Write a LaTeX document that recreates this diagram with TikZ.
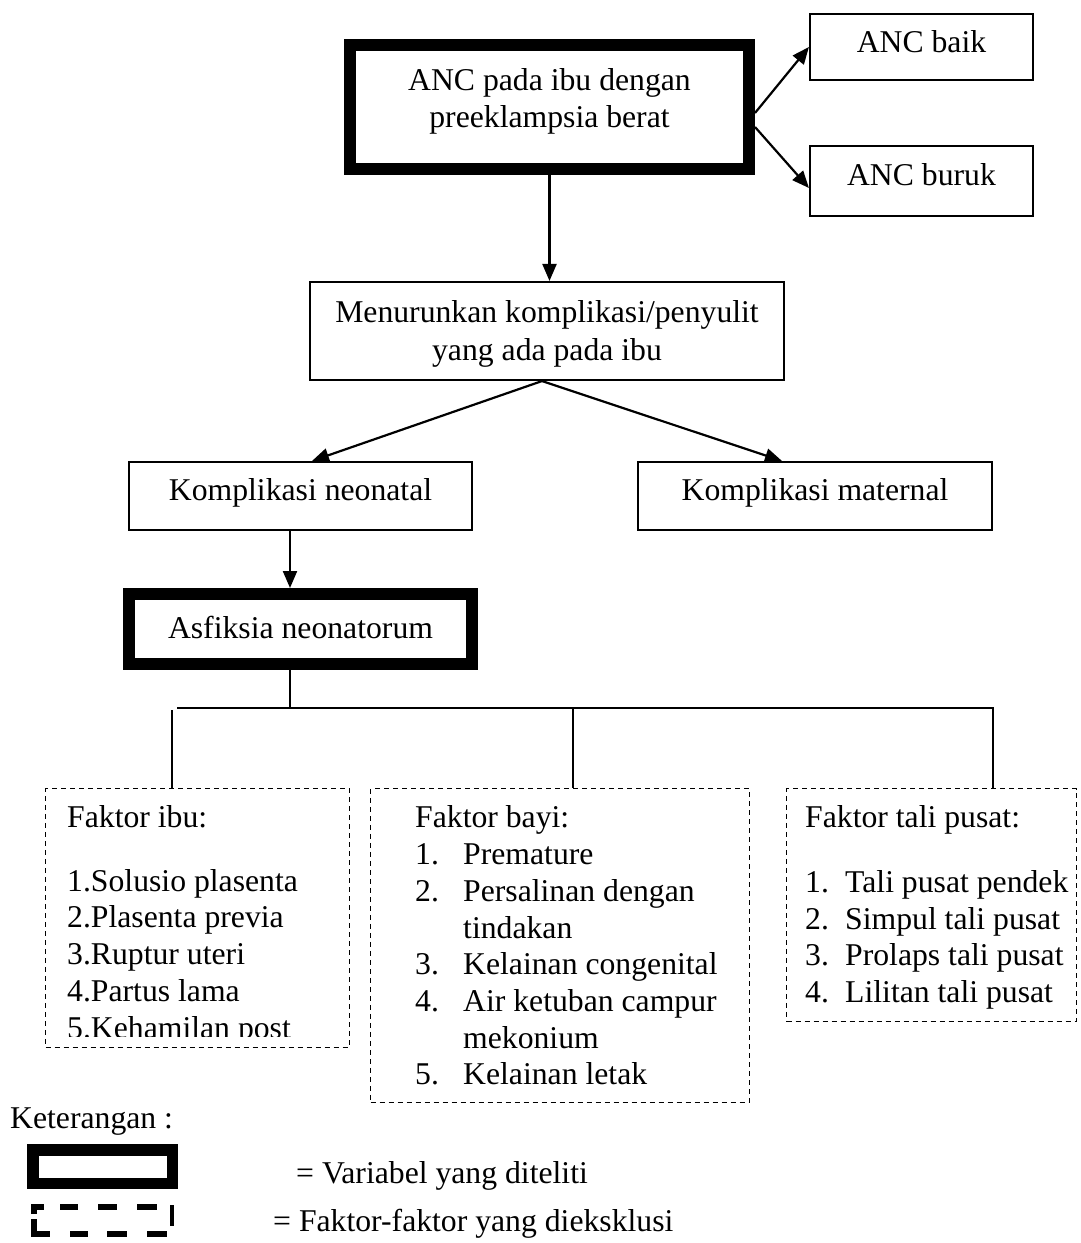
\documentclass[tikz,border=0pt]{standalone}
\usepackage{fontspec}
\setmainfont{Liberation Serif}
\usetikzlibrary{arrows.meta,calc}

\begin{document}
\begin{tikzpicture}[x=1pt,y=-1pt,
  every node/.style={inner sep=0pt},
  txt/.style={font=\fontsize{31.7}{36.7}\selectfont, anchor=base},
  ltxt/.style={txt, anchor=base west},
  plainbox/.style={draw, line width=1.7pt},
  boldbox/.style={draw, line width=12pt},
  exclbox/.style={draw, line width=1.5pt, dash pattern=on 5pt off 4pt},
  arr/.style={-{Triangle[length=17pt,width=14pt]}, line width=2.2pt},
  link/.style={line width=1.9pt, line join=miter},
  legdash/.style={line width=6.5pt, line cap=butt, line join=miter}
]
\useasboundingbox (0,0) rectangle (1080,1243);

% ---- boxes ----
\node[boldbox, minimum width=399pt, minimum height=124pt] (top) at (549.5,107) {};
\node[plainbox, minimum width=223.4pt, minimum height=66.4pt] (baik) at (921.5,47) {};
\node[plainbox, minimum width=223.4pt, minimum height=70.4pt] (buruk) at (921.5,181) {};
\node[plainbox, minimum width=474.4pt, minimum height=98.4pt] (menu) at (547,331) {};
\node[plainbox, minimum width=343.4pt, minimum height=68.4pt] (neo) at (300.5,496) {};
\node[plainbox, minimum width=354.4pt, minimum height=68.4pt] (mat) at (815,496) {};
\node[boldbox, minimum width=343pt, minimum height=70pt] (asf) at (300.5,629) {};
\node[exclbox, minimum width=303.6pt, minimum height=258.6pt] (ibu) at (197.5,918) {};
\node[exclbox, minimum width=378.6pt, minimum height=313.6pt] (bayi) at (560,945.5) {};
\node[exclbox, minimum width=289.6pt, minimum height=232.6pt] (tali) at (931.5,905) {};

% ---- box texts ----
\node[txt] (topA) at (549.5,90) {ANC pada ibu dengan};
\node[txt] (topB) at (549.5,127) {preeklampsia berat};
\node[txt] (baikT) at (921.5,52) {ANC baik};
\node[txt] (burukT) at (921.5,185) {ANC buruk};
\node[txt] (menuA) at (547,322) {Menurunkan komplikasi/penyulit};
\node[txt] (menuB) at (547,360) {yang ada pada ibu};
\node[txt] (neoT) at (300.5,500) {Komplikasi neonatal};
\node[txt] (matT) at (815,500) {Komplikasi maternal};
\node[txt] (asfT) at (300.5,638) {Asfiksia neonatorum};

% ---- arrows ----
\draw[arr] ([yshift=-6pt]top.east) -- (baik.west);
\draw[arr] ([yshift=-20pt]top.east) -- ([yshift=-7pt]buruk.west);
\draw[arr] (top.south) -- (top.south |- menu.north);
\draw[arr] ([xshift=-5pt]menu.south) -- ([xshift=11.5pt]neo.north);
\draw[arr] ([xshift=-5pt]menu.south) -- ([xshift=-33pt]mat.north);
\draw[arr] ([xshift=-10.5pt]neo.south) -- ([xshift=-10.5pt]asf.north);

% ---- branching lines to the factor groups ----
\coordinate (hub) at (290,708);
\coordinate (busL) at (177,708);
\coordinate (busM) at (573,708);
\coordinate (busR) at (993,708);
\coordinate (dropL) at (172,710);
\draw[link] (asf.south -| hub) -- (hub);
\draw[link] (busL) -- (busR) -- (busR |- tali.north);
\draw[link] (dropL) -- (dropL |- ibu.north);
\draw[link] (busM) -- (busM |- bayi.north);

% ---- Faktor ibu ----
\node[ltxt] (ibuH) at (67,827) {Faktor ibu:};
\node[ltxt] (ibu1) at (67,891) {1.Solusio plasenta};
\node[ltxt] (ibu2) at (67,927) {2.Plasenta previa};
\node[ltxt] (ibu3) at (67,964) {3.Ruptur uteri};
\node[ltxt] (ibu4) at (67,1001) {4.Partus lama};
\begin{scope}
  \clip (40,1000) rectangle (355,1036);
  \node[ltxt] (ibu5) at (67,1038) {5.Kehamilan post};
\end{scope}

% ---- Faktor bayi ----
\node[ltxt] (bayiH) at (415,827) {Faktor bayi:};
\node[ltxt] (bayiN1) at (415,864) {1.};
\node[ltxt] (bayi1) at (463,864) {Premature};
\node[ltxt] (bayiN2) at (415,901) {2.};
\node[ltxt] (bayi2) at (463,901) {Persalinan dengan};
\node[ltxt] (bayi2b) at (463,938) {tindakan};
\node[ltxt] (bayiN3) at (415,974) {3.};
\node[ltxt] (bayi3) at (463,974) {Kelainan congenital};
\node[ltxt] (bayiN4) at (415,1011) {4.};
\node[ltxt] (bayi4) at (463,1011) {Air ketuban campur};
\node[ltxt] (bayi4b) at (463,1048) {mekonium};
\node[ltxt] (bayiN5) at (415,1084) {5.};
\node[ltxt] (bayi5) at (463,1084) {Kelainan letak};

% ---- Faktor tali pusat ----
\node[ltxt] (taliH) at (805,827) {Faktor tali pusat:};
\node[ltxt] (taliN1) at (805,892) {1.};
\node[ltxt] (tali1) at (845,892) {Tali pusat pendek};
\node[ltxt] (taliN2) at (805,929) {2.};
\node[ltxt] (tali2) at (845,929) {Simpul tali pusat};
\node[ltxt] (taliN3) at (805,965) {3.};
\node[ltxt] (tali3) at (845,965) {Prolaps tali pusat};
\node[ltxt] (taliN4) at (805,1002) {4.};
\node[ltxt] (tali4) at (845,1002) {Lilitan tali pusat};

% ---- legend ----
\node[ltxt] (ket) at (10,1128) {Keterangan :};
\node[boldbox, line width=11.5pt, minimum width=139.5pt, minimum height=33.5pt] (legV) at (102.5,1166.5) {};
\node[ltxt] (legVT) at (296,1183) {= Variabel yang diteliti};
% dashed key symbol
\draw[legdash] (34,1214) -- (34,1207) -- (44,1207);
\draw[legdash] (60,1207) -- (78,1207);
\draw[legdash] (98,1207) -- (117,1207);
\draw[legdash] (137,1207) -- (157,1207);
\draw[legdash, line width=4.5pt] (172,1205) -- (172,1226);
\draw[legdash] (34,1219) -- (34,1234) -- (50,1234);
\draw[legdash] (70,1234) -- (88,1234);
\draw[legdash] (107,1234) -- (127,1234);
\draw[legdash] (147,1234) -- (167,1234);
\node[ltxt] (legFT) at (273,1231) {= Faktor-faktor yang dieksklusi};
\end{tikzpicture}
\end{document}
